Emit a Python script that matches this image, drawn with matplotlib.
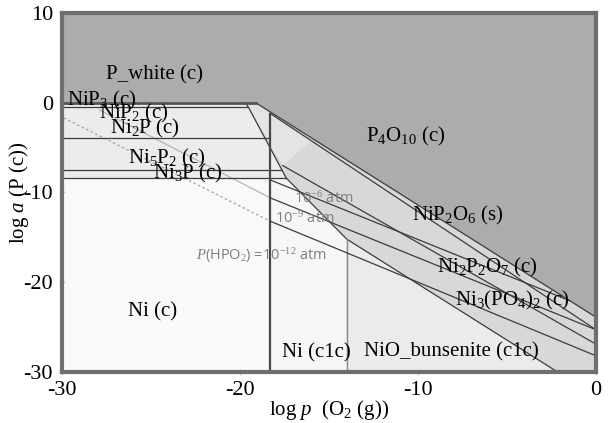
import matplotlib
matplotlib.use("Agg")
import matplotlib.pyplot as plt

plt.rcParams['mathtext.fontset'] = 'custom'
plt.rcParams['mathtext.rm'] = 'Liberation Serif'
plt.rcParams['mathtext.it'] = 'Liberation Serif:italic'

# ---- data (log pO2, log aP) ----
xlim = [-30, 0]
ylim = [-30, 10]
xticks = [-30, -20, -10, 0]
yticks = [-30, -20, -10, 0, 10]

p4o10_line = ([-19.12, 0.0], [0.0, -23.9])          # P4O10 / phosphates
envelope_x = [-19.7, -19.5, -17.4, -14.0, -2.16]     # lower-left edge of phosphate field
envelope_y = [0.0, -0.6, -8.4, -15.2, -30.0]
phosphide_levels = [0.0, -0.5, -3.9, -7.5, -8.4]
phosphide_ends = [-19.7, -19.55, -18.3, -17.7, -17.4]
ni_nio_dark = -18.3
ni_nio_light = -14.0
ni_nio_dark_top = -1.2

strip_lines = [
    ([-18.3, 0.0], [-1.2, -25.3]),
    ([-17.6, 0.0], [-7.0, -26.9]),
]
iso_left_x = [[-27.9, -18.3], [-29.9, -18.3]]
iso_left_y = [[-0.8, -10.6], [-1.7, -13.2]]
iso_right = [
    ([-18.3, -1.47], [-8.6, -22.06]),
    ([-18.3, 0.0], [-10.6, -25.3]),
    ([-18.3, 0.0], [-13.2, -28.2]),
]
wedge_x = [-19.5, -18.3, -16.0, -17.6]
wedge_y = [-0.6, -1.2, -4.23, -7.0]

DARK = '#acacac'
STRIP = '#d8d8d8'
STRIP_LIGHT = '#e4e4e4'
PHOS = '#ececec'
NI = '#f9f9f9'
NIC1C = '#f6f6f6'
NIO = '#ebebeb'
LINE = '#3c3c3c'

fig = plt.figure(figsize=(6.09, 4.23), dpi=100)
ax = fig.add_axes([0.1018, 0.1206, 0.8769, 0.8487])
ax.set_xlim(xlim)
ax.set_ylim(ylim)
ax.set_facecolor(DARK)

serif = ['Liberation Serif', 'DejaVu Serif']
sans = ['Open Sans', 'DejaVu Sans']

ax.fill([-30, envelope_x[0], envelope_x[1], envelope_x[2], -30],
        [0, envelope_y[0], envelope_y[1], envelope_y[2], -8.4], color=PHOS, lw=0, zorder=1)
ax.fill([envelope_x[0], p4o10_line[0][0], p4o10_line[0][1], 0, envelope_x[4], envelope_x[3], envelope_x[2], envelope_x[1]],
        [envelope_y[0], p4o10_line[1][0], p4o10_line[1][1], -30, envelope_y[4], envelope_y[3], envelope_y[2], envelope_y[1]],
        color=STRIP, lw=0, zorder=1)
ax.fill(wedge_x, wedge_y, color=STRIP_LIGHT, lw=0, zorder=1)
ax.fill([envelope_x[0], p4o10_line[0][0], -18.3, envelope_x[1]],
        [0, 0, -1.2, envelope_y[1]], color='#e2e2e2', lw=0, zorder=1)
ax.fill([-30, envelope_x[2], ni_nio_dark, ni_nio_dark, -30],
        [-8.4, -8.4, -8.4, -30, -30], color=NI, lw=0, zorder=1)
ax.fill([ni_nio_dark, envelope_x[2], envelope_x[3], ni_nio_light, ni_nio_dark],
        [-8.4, envelope_y[2], envelope_y[3], -30, -30], color=NIC1C, lw=0, zorder=1)
ax.fill([envelope_x[3], envelope_x[4], ni_nio_light],
        [envelope_y[3], envelope_y[4], -30], color=NIO, lw=0, zorder=1)

ax.plot(*p4o10_line, color=LINE, lw=0.9, zorder=3)
ax.plot(envelope_x, envelope_y, color=LINE, lw=0.9, zorder=3)
ax.plot([-30, -19.12], [0, 0], color='#555555', lw=2.0, zorder=3)
for lvl, xe in zip(phosphide_levels[1:], phosphide_ends[1:]):
    ax.plot([-30, xe], [lvl, lvl], color=LINE, lw=0.9, zorder=3)
ax.plot([ni_nio_dark, ni_nio_dark], [-30, ni_nio_dark_top], color='#4a4a4a', lw=1.6, zorder=3)
ax.plot([ni_nio_light, ni_nio_light], [-30, -15.2], color='#8a8a8a', lw=1.0, zorder=3)
for (lx, ly) in strip_lines:
    ax.plot(lx, ly, color=LINE, lw=0.9, zorder=3)
ax.plot(iso_left_x[0], iso_left_y[0], color='#b5b5b5', lw=0.9, zorder=2)
ax.plot(iso_left_x[1], iso_left_y[1], color='#a0a0a0', lw=0.9, ls=(0, (2, 2)), zorder=2)
for (lx, ly) in iso_right:
    ax.plot(lx, ly, color=LINE, lw=0.9, zorder=3)

fs = 15
def lab(x, y, s, ha='center'):
    ax.text(x, y, s, fontsize=fs, family=serif, ha=ha, va='center', zorder=5)

lab(-24.8, 3.1, 'P_white (c)')
lab(-29.7, 0.2, 'NiP$_3$ (c)', 'left')
lab(-27.9, -1.15, 'NiP$_2$ (c)', 'left')
lab(-27.3, -2.9, 'Ni$_2$P (c)', 'left')
lab(-26.3, -6.2, 'Ni$_5$P$_2$ (c)', 'left')
lab(-24.9, -7.9, 'Ni$_3$P (c)', 'left')
lab(-10.7, -3.8, 'P$_4$O$_{10}$ (c)')
lab(-7.75, -12.6, 'NiP$_2$O$_6$ (s)')
lab(-6.1, -18.4, 'Ni$_2$P$_2$O$_7$ (c)')
lab(-4.7, -22.0, 'Ni$_3$(PO$_4$)$_2$ (c)')
lab(-24.9, -23.3, 'Ni (c)')
lab(-15.7, -27.9, 'Ni (c1c)')
lab(-8.1, -27.8, 'NiO_bunsenite (c1c)')

gs = 10.5
gc = '#7f7f7f'
ax.text(-16.97, -10.7, '10$^{-6}$ atm', fontsize=gs, family=sans, color=gc, ha='left', va='center', zorder=5)
ax.text(-18.03, -12.95, '10$^{-9}$ atm', fontsize=gs, family=sans, color=gc, ha='left', va='center', zorder=5)
ax.text(-22.5, -17.0, '$P$(HPO$_2$) =10$^{-12}$ atm', fontsize=gs, family=sans, color=gc, ha='left', va='center', zorder=5)

for s in ax.spines.values():
    s.set_color('#6e6e6e')
    s.set_linewidth(3.0)
    s.set_zorder(6)
ax.set_xticks(xticks)
ax.set_yticks(yticks)
ax.set_xticklabels([str(v) for v in xticks], family=serif, fontsize=16)
ax.set_yticklabels([str(v) for v in yticks], family=serif, fontsize=16)
ax.tick_params(direction='inout', length=5, width=1, color='#d0d0d0')
ax.tick_params(axis='x', pad=4)
ax.tick_params(axis='y', pad=4)
ax.set_xlabel('log $p$  (O$_2$ (g))', family=serif, fontsize=15)
ax.set_ylabel('log $a$ (P (c))', family=serif, fontsize=15)
ax.xaxis.set_label_coords(0.5, -0.072)
ax.yaxis.set_label_coords(-0.058, 0.5)

fig.savefig('out.png', dpi=100)
